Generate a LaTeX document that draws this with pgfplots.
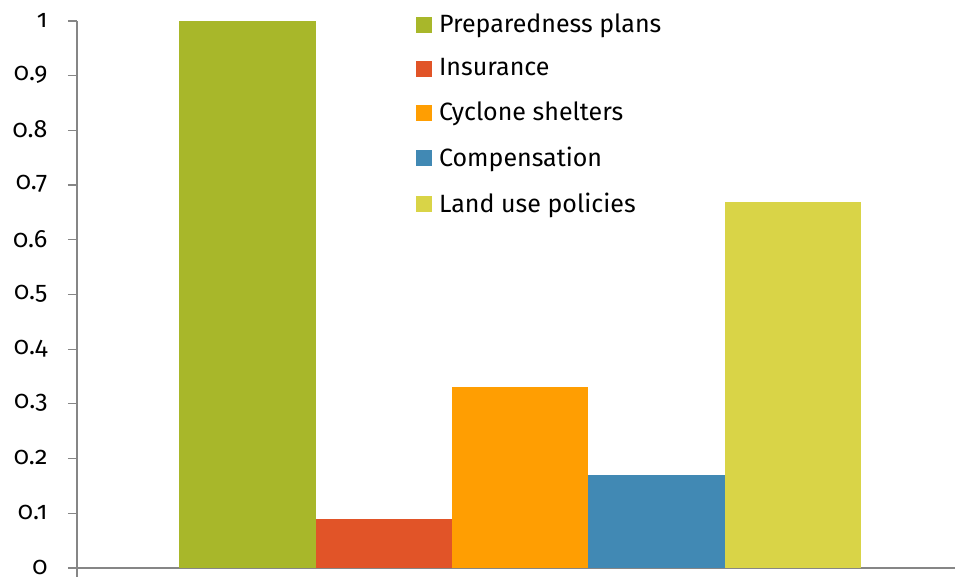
\documentclass[border=0pt]{standalone}
\usepackage{pgfplots}
\pgfplotsset{compat=1.18}
\usepackage{fontspec}
\setmainfont[Numbers=OldStyle]{Fira Sans}
\definecolor{cgreen}{HTML}{A8B72A}
\definecolor{cred}{HTML}{E15428}
\definecolor{corange}{HTML}{FF9E02}
\definecolor{cblue}{HTML}{4189B4}
\definecolor{cyellow}{HTML}{D9D447}
\definecolor{caxis}{HTML}{868686}
\begin{document}
\fontsize{25bp}{29bp}\selectfont
\begin{tikzpicture}
\begin{axis}[
  scale only axis,
  width=878bp, height=547bp,
  xmin=-1.25, xmax=5.19,
  ymin=0, ymax=1,
  axis x line*=bottom, axis y line*=left,
  axis line style={caxis, line width=1.5bp},
  every tick/.style={caxis, line width=1.2bp},
  tick align=outside,
  major tick length=9bp,
  ytick={0,0.1,...,1.0},
  yticklabels={0,0.1,0.2,0.3,0.4,0.5,0.6,0.7,0.8,0.9,1},
  yticklabel style={font=\fontsize{25bp}{29bp}\selectfont, anchor=east, xshift=-12bp, yshift=1bp},
  xtick={-1.25}, xticklabels={},
  ybar, bar width=1, bar shift=0pt,
  legend style={draw=none, fill=none, at={(0.386,1.018)}, anchor=north west,
    font=\fontsize{25bp}{29bp}\selectfont, row sep=18.5bp, inner sep=0pt,
    legend cell align=left},
  legend image code/.code={\fill[#1] (0bp,-8bp) rectangle (16bp,8bp);},
  clip=false,
]
\addplot[fill=cgreen, draw=none] coordinates {(0,1.0)};
\addplot[fill=cred, draw=none] coordinates {(1,0.09)};
\addplot[fill=corange, draw=none] coordinates {(2,0.33)};
\addplot[fill=cblue, draw=none] coordinates {(3,0.17)};
\addplot[fill=cyellow, draw=none] coordinates {(4,0.67)};
\legend{\hspace{5bp}Preparedness plans, \hspace{5bp}Insurance, \hspace{5bp}Cyclone shelters, \hspace{5bp}Compensation, \hspace{5bp}Land use policies}
\coordinate (ll) at (rel axis cs:0,0);
\end{axis}
\pgfresetboundingbox
\path ([shift={(-77bp,-11bp)}]ll) rectangle ++(955bp,579bp);
\end{tikzpicture}
\end{document}
